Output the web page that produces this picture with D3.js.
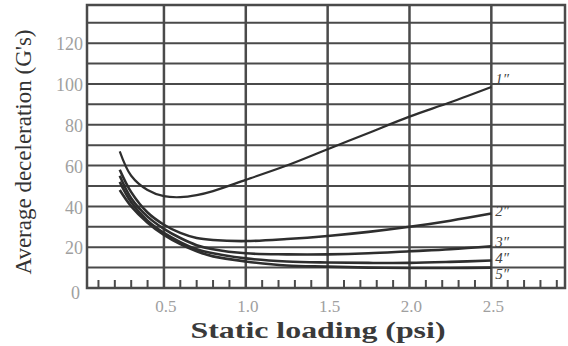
<!DOCTYPE html>
<html>
<head>
<meta charset="utf-8">
<script src="https://cdn.jsdelivr.net/npm/d3@7"></script>
<style>
  html, body { margin: 0; padding: 0; background: #fff; }
  svg { display: block; font-family: "Liberation Serif", "DejaVu Serif", serif; }
</style>
</head>
<body>
<figure id="chart" style="margin:0"></figure>
<script>
// Static loading (psi) sample points, shared by every curve
const loading = [0.23, 0.3, 0.4, 0.5, 0.6, 0.7, 0.8, 1.0, 1.25, 1.5, 1.75, 2.0, 2.25, 2.5];

// Average deceleration (G's) for each cushion thickness
const thickness1 = [67, 55, 48, 45, 44.5, 45.5, 47.5, 53, 60, 68, 76, 84, 91, 98.5];
const thickness2 = [58, 47, 37, 31, 27, 24.5, 23.5, 23, 24, 25.5, 27.5, 30, 33, 36.5];
const thickness3 = [55, 44, 35, 29, 24.5, 21, 19, 17, 16.5, 16.5, 17, 18, 19, 20.5];
const thickness4 = [52, 42, 33, 27, 22.5, 19, 17, 14.5, 13, 12.5, 12.3, 12.3, 12.8, 13.5];
const thickness5 = [48, 40, 32, 26, 21.5, 18, 15.5, 13, 11, 10.5, 10, 9.8, 9.8, 10];

const curveLabels = ["1\u2033", "2\u2033", "3\u2033", "4\u2033", "5\u2033"];
const yTickLabels = [0, 20, 40, 60, 80, 100, 120];
const xTickLabels = [0.5, 1.0, 1.5, 2.0, 2.5];

const series = [thickness1, thickness2, thickness3, thickness4, thickness5];
// label nudges (px) so the five labels don't pile up at the right end
const labelDy = [-3, 2, 1, 3, 11];

const width = 568, height = 346;
const plotLeft = 87, plotRight = 565, plotTop = 5, plotBottom = 288;

const svg = d3.select("figure#chart")
  .append("svg")
  .attr("width", width)
  .attr("height", height);

const x = d3.scaleLinear().domain([0.03, 2.95]).range([plotLeft, plotRight]);
const y = d3.scaleLinear().domain([0, 138.7]).range([plotBottom, plotTop]);

const gridColor = "#4a4a4a";

// horizontal grid every 10 G
svg.append("g")
  .selectAll("line")
  .data(d3.range(10, 140, 10))
  .enter()
  .append("line")
  .attr("x1", plotLeft).attr("x2", plotRight)
  .attr("y1", d => y(d)).attr("y2", d => y(d))
  .attr("stroke", gridColor)
  .attr("stroke-width", 2);

// vertical grid every 0.5 psi
svg.append("g")
  .selectAll("line")
  .data(xTickLabels)
  .enter()
  .append("line")
  .attr("x1", d => x(d)).attr("x2", d => x(d))
  .attr("y1", plotTop).attr("y2", plotBottom)
  .attr("stroke", gridColor)
  .attr("stroke-width", 2.5);

// minor ticks along the bottom, every 0.1 psi
svg.append("g")
  .selectAll("line")
  .data(d3.range(1, 30).filter(i => i % 5 !== 0).map(i => i / 10))
  .enter()
  .append("line")
  .attr("x1", d => x(d)).attr("x2", d => x(d))
  .attr("y1", plotBottom).attr("y2", plotBottom - 8)
  .attr("stroke", gridColor)
  .attr("stroke-width", 2);

// frame
svg.append("rect")
  .attr("x", plotLeft).attr("y", plotTop)
  .attr("width", plotRight - plotLeft).attr("height", plotBottom - plotTop)
  .attr("fill", "none")
  .attr("stroke", gridColor)
  .attr("stroke-width", 2.5);

// curves
const line = d3.line()
  .x((d, i) => x(loading[i]))
  .y(d => y(d))
  .curve(d3.curveCatmullRom.alpha(0.5));

svg.append("g")
  .selectAll("path")
  .data(series)
  .enter()
  .append("path")
  .attr("d", d => line(d))
  .attr("fill", "none")
  .attr("stroke", "#2e2e2e")
  .attr("stroke-width", (d, i) => i === 0 ? 2.2 : 2.6);

// curve labels at the right end
svg.append("g")
  .selectAll("text")
  .data(series)
  .enter()
  .append("text")
  .attr("x", x(2.5) + 4)
  .attr("y", (d, i) => y(d[d.length - 1]) + labelDy[i])
  .attr("font-size", 15)
  .attr("font-style", "italic")
  .attr("fill", "#444")
  .text((d, i) => curveLabels[i]);

// y tick labels
svg.append("g")
  .selectAll("text")
  .data(yTickLabels)
  .enter()
  .append("text")
  .attr("x", d => d === 0 ? 80 : 83)
  .attr("y", d => y(d) + (d === 0 ? 5 : 1))
  .attr("dy", "0.35em")
  .attr("text-anchor", "end")
  .attr("font-size", 18)
  .attr("fill", "#a0a0a0")
  .text(d => d);

// x tick labels
svg.append("g")
  .selectAll("text")
  .data(xTickLabels)
  .enter()
  .append("text")
  .attr("x", d => x(d) + 2)
  .attr("y", 312)
  .attr("text-anchor", "middle")
  .attr("font-size", 17)
  .attr("fill", "#a0a0a0")
  .text(d => d.toFixed(1));

// axis titles
svg.append("text")
  .attr("x", 318)
  .attr("y", 338)
  .attr("text-anchor", "middle")
  .attr("font-size", 24)
  .attr("font-weight", "bold")
  .attr("fill", "#3a3a3a")
  .attr("textLength", 255)
  .attr("lengthAdjust", "spacingAndGlyphs")
  .text("Static loading (psi)");

svg.append("text")
  .attr("transform", "translate(31,152) rotate(-90)")
  .attr("text-anchor", "middle")
  .attr("font-size", 23)
  .attr("fill", "#333")
  .attr("textLength", 245)
  .attr("lengthAdjust", "spacingAndGlyphs")
  .text("Average deceleration (G's)");
</script>
</body>
</html>
